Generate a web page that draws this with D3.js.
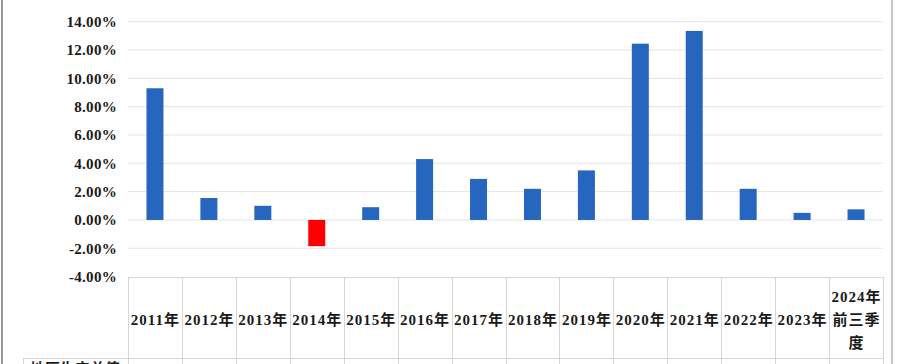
<!DOCTYPE html>
<html>
<head>
<meta charset="utf-8">
<script src="https://cdn.jsdelivr.net/npm/d3@7"></script>
<style>
  body { margin: 0; background: #fff; }
  svg { display: block; }
  text { font-family: "Liberation Serif", "Noto Sans CJK SC", serif; font-weight: bold; fill: #1a1a1a; }
</style>
</head>
<body>
<div id="chart"></div>
<script>
const categories = ["2011年", "2012年", "2013年", "2014年", "2015年", "2016年", "2017年",
  "2018年", "2019年", "2020年", "2021年", "2022年", "2023年", "2024年\n前三季\n度"];
const values = [9.3, 1.55, 1.0, -1.85, 0.9, 4.3, 2.9, 2.2, 3.5, 12.45, 13.35, 2.2, 0.5, 0.75];
const yTicks = [-4, -2, 0, 2, 4, 6, 8, 10, 12, 14, 16];

const width = 898;
const height = 364;
const plot = { left: 128, right: 883, top: -6.6, bottom: 276.6 };

const svg = d3.select("#chart")
  .append("svg")
  .attr("width", width)
  .attr("height", height);

const x = d3.scaleBand()
  .domain(categories)
  .range([plot.left, plot.right]);

const y = d3.scaleLinear()
  .domain([-4, 16])
  .range([plot.bottom, plot.top]);

// outer frame lines
svg.append("line").attr("x1", 2).attr("x2", 2).attr("y1", 0).attr("y2", height)
  .attr("stroke", "#9a9a9a").attr("stroke-width", 2);
svg.append("line").attr("x1", 892).attr("x2", 892).attr("y1", 0).attr("y2", height)
  .attr("stroke", "#b5b5b5").attr("stroke-width", 1.5);

// gridlines
svg.append("g")
  .selectAll("line")
  .data(yTicks.filter(t => t > -4))
  .enter()
  .append("line")
  .attr("x1", plot.left)
  .attr("x2", plot.right)
  .attr("y1", d => y(d))
  .attr("y2", d => y(d))
  .attr("stroke", "#e3e3e3")
  .attr("stroke-width", 1);

// y labels
svg.append("g")
  .selectAll("text")
  .data(yTicks)
  .enter()
  .append("text")
  .attr("x", 117)
  .attr("y", d => y(d))
  .attr("dy", "0.36em")
  .attr("text-anchor", "end")
  .style("font-size", "15px")
  .style("letter-spacing", "0.3px")
  .text(d => d.toFixed(2) + "%");

// bars
const barW = 17;
svg.append("g")
  .selectAll("rect")
  .data(values)
  .enter()
  .append("rect")
  .attr("x", (d, i) => x(categories[i]) + x.bandwidth() / 2 - barW / 2)
  .attr("y", d => y(Math.max(d, 0)))
  .attr("width", barW)
  .attr("height", d => Math.abs(y(d) - y(0)))
  .attr("fill", d => d < 0 ? "#ff0000" : "#2766be");

// data table
const tbl = svg.append("g").attr("stroke", "#d6d6d6").attr("stroke-width", 1);
tbl.append("line").attr("x1", plot.left).attr("x2", plot.right)
  .attr("y1", 277.5).attr("y2", 277.5);
tbl.append("line").attr("x1", 23).attr("x2", plot.right)
  .attr("y1", 358.5).attr("y2", 358.5);
tbl.append("line").attr("x1", 23.5).attr("x2", 23.5)
  .attr("y1", 358).attr("y2", height);
tbl.selectAll(".col")
  .data(categories.concat([null]))
  .enter()
  .append("line")
  .attr("x1", (d, i) => Math.round(plot.left + i * x.bandwidth()) + 0.5)
  .attr("x2", (d, i) => Math.round(plot.left + i * x.bandwidth()) + 0.5)
  .attr("y1", 277)
  .attr("y2", height);

svg.append("g")
  .selectAll("text")
  .data(categories)
  .enter()
  .append("text")
  .attr("text-anchor", "middle")
  .style("font-size", "15px")
  .style("letter-spacing", "1px")
  .each(function(d) {
    const lines = d.split("\n");
    const cx = x(d) + x.bandwidth() / 2 + 0.5;
    const cy = 320 - (lines.length - 1) * 11.5;
    d3.select(this).selectAll("tspan")
      .data(lines)
      .enter()
      .append("tspan")
      .attr("x", cx)
      .attr("y", (l, j) => cy + j * 23)
      .attr("dy", "0.36em")
      .text(l => l);
  });

// row header of next table row, cut off by the window
svg.append("text")
  .attr("x", 75)
  .attr("y", 374)
  .attr("text-anchor", "middle")
  .style("font-size", "15px")
  .text("地区生产总值");
</script>
</body>
</html>
